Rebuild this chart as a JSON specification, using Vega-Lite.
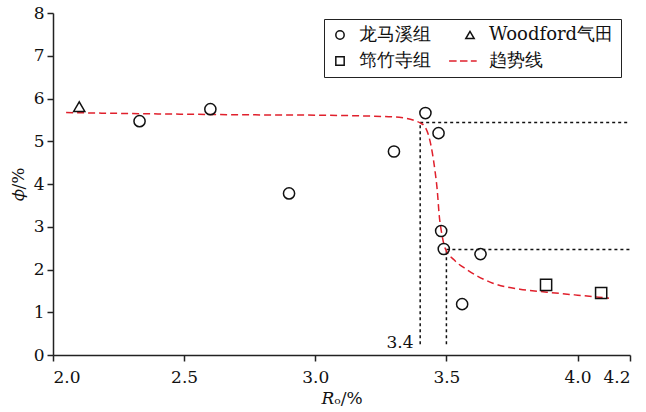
{
  "$schema": "https://vega.github.io/schema/vega-lite/v6.json",
  "width": 577,
  "height": 342,
  "autosize": {"type": "none"},
  "padding": {"left": 53, "top": 13, "right": 16, "bottom": 57},
  "background": "white",
  "config": {
    "font": "DejaVu Serif",
    "view": {"stroke": null},
    "axis": {
      "domainColor": "#222",
      "domainWidth": 1.5,
      "tickColor": "#222",
      "tickWidth": 1.5,
      "tickSize": 6,
      "labelFont": "DejaVu Serif",
      "labelFontSize": 17,
      "labelColor": "#111",
      "titleFont": "DejaVu Serif",
      "titleFontSize": 17,
      "titleFontWeight": "normal",
      "titleColor": "#111",
      "grid": false
    }
  },
  "datasets": {
    "points": [
      {"ro": 2.33, "phi": 5.47, "group": "龙马溪组"},
      {"ro": 2.60, "phi": 5.75, "group": "龙马溪组"},
      {"ro": 2.90, "phi": 3.78, "group": "龙马溪组"},
      {"ro": 3.30, "phi": 4.76, "group": "龙马溪组"},
      {"ro": 3.42, "phi": 5.66, "group": "龙马溪组"},
      {"ro": 3.47, "phi": 5.19, "group": "龙马溪组"},
      {"ro": 3.48, "phi": 2.90, "group": "龙马溪组"},
      {"ro": 3.49, "phi": 2.48, "group": "龙马溪组"},
      {"ro": 3.63, "phi": 2.36, "group": "龙马溪组"},
      {"ro": 3.56, "phi": 1.19, "group": "龙马溪组"},
      {"ro": 2.10, "phi": 5.81, "group": "Woodford气田"},
      {"ro": 3.88, "phi": 1.64, "group": "筇竹寺组"},
      {"ro": 4.09, "phi": 1.45, "group": "筇竹寺组"}
    ],
    "trend": [
      {"ro": 2.05, "phi": 5.67},
      {"ro": 2.40, "phi": 5.64},
      {"ro": 2.70, "phi": 5.62},
      {"ro": 3.00, "phi": 5.61},
      {"ro": 3.20, "phi": 5.59},
      {"ro": 3.32, "phi": 5.56},
      {"ro": 3.38, "phi": 5.48},
      {"ro": 3.40, "phi": 5.43},
      {"ro": 3.418, "phi": 5.34},
      {"ro": 3.437, "phi": 5.02},
      {"ro": 3.456, "phi": 4.33},
      {"ro": 3.465, "phi": 3.86},
      {"ro": 3.473, "phi": 3.24},
      {"ro": 3.482, "phi": 2.85},
      {"ro": 3.495, "phi": 2.50},
      {"ro": 3.53, "phi": 2.22},
      {"ro": 3.58, "phi": 1.99},
      {"ro": 3.677, "phi": 1.68},
      {"ro": 3.78, "phi": 1.54},
      {"ro": 3.883, "phi": 1.47},
      {"ro": 4.0, "phi": 1.40},
      {"ro": 4.12, "phi": 1.33}
    ],
    "refs": [
      {"ro": 3.4, "ro2": 3.4, "phi": 0.25, "phi2": 5.44},
      {"ro": 3.4, "ro2": 4.2, "phi": 5.44, "phi2": 5.44},
      {"ro": 3.5, "ro2": 3.5, "phi": 0.25, "phi2": 2.47},
      {"ro": 3.5, "ro2": 4.2, "phi": 2.47, "phi2": 2.47}
    ],
    "labels": [
      {"ro": 3.323, "phi": 0.28, "text": "3.4"}
    ]
  },
  "layer": [
    {
      "data": {"name": "refs"},
      "mark": {"type": "rule", "color": "#111", "strokeWidth": 1.5, "strokeDash": [3, 3]},
      "encoding": {
        "x": {"field": "ro", "type": "quantitative", "scale": {"domain": [2, 4.2], "nice": false, "zero": false},
          "axis": {"values": [2, 2.5, 3, 3.5, 4, 4.2], "format": ".1f", "title": "𝑅ₒ/%", "labelPadding": 8, "titlePadding": 5}},
        "x2": {"field": "ro2"},
        "y": {"field": "phi", "type": "quantitative", "scale": {"domain": [0, 8], "nice": false},
          "axis": {"values": [0, 1, 2, 3, 4, 5, 6, 7, 8], "title": "𝜙/%", "labelPadding": 3, "titlePadding": 6}},
        "y2": {"field": "phi2"}
      }
    },
    {
      "data": {"name": "trend"},
      "mark": {"type": "line", "color": "#e0202c", "strokeWidth": 1.5, "strokeDash": [7, 4], "interpolate": "monotone"},
      "encoding": {
        "x": {"field": "ro", "type": "quantitative"},
        "y": {"field": "phi", "type": "quantitative"}
      }
    },
    {
      "data": {"name": "points"},
      "mark": {"type": "point", "filled": false, "strokeWidth": 1.5, "size": 125, "opacity": 1},
      "encoding": {
        "x": {"field": "ro", "type": "quantitative"},
        "y": {"field": "phi", "type": "quantitative"},
        "shape": {
          "field": "group", "type": "nominal",
          "scale": {
            "domain": ["龙马溪组", "筇竹寺组", "Woodford气田", "趋势线"],
            "range": ["circle", "square", "triangle-up", "M-5,0H-3.2M-2.4,0H-0.6M0.2,0H1.6"]
          },
          "legend": {
            "title": null, "orient": "none", "legendX": 271, "legendY": 6, "columns": 2,
            "symbolSize": 70, "symbolStrokeWidth": 1.5, "labelFontSize": 18,
            "labelFont": "DejaVu Serif", "labelColor": "#111", "labelOffset": 10,
            "strokeColor": "#222", "padding": 7, "rowPadding": 8, "columnPadding": 15,
            "symbolFillColor": "transparent"
          }
        },
        "color": {
          "field": "group", "type": "nominal",
          "scale": {
            "domain": ["龙马溪组", "筇竹寺组", "Woodford气田", "趋势线"],
            "range": ["#111111", "#111111", "#111111", "#e0202c"]
          },
          "legend": {
            "title": null, "orient": "none", "legendX": 271, "legendY": 6, "columns": 2,
            "symbolSize": 70, "symbolStrokeWidth": 1.5, "labelFontSize": 18,
            "labelFont": "DejaVu Serif", "labelColor": "#111", "labelOffset": 10,
            "strokeColor": "#222", "padding": 7, "rowPadding": 8, "columnPadding": 15,
            "symbolFillColor": "transparent"
          }
        }
      }
    },
    {
      "data": {"name": "labels"},
      "mark": {"type": "text", "fontSize": 17, "color": "#111", "align": "center", "baseline": "middle", "font": "DejaVu Serif"},
      "encoding": {
        "x": {"field": "ro", "type": "quantitative"},
        "y": {"field": "phi", "type": "quantitative"},
        "text": {"field": "text"}
      }
    }
  ]
}
